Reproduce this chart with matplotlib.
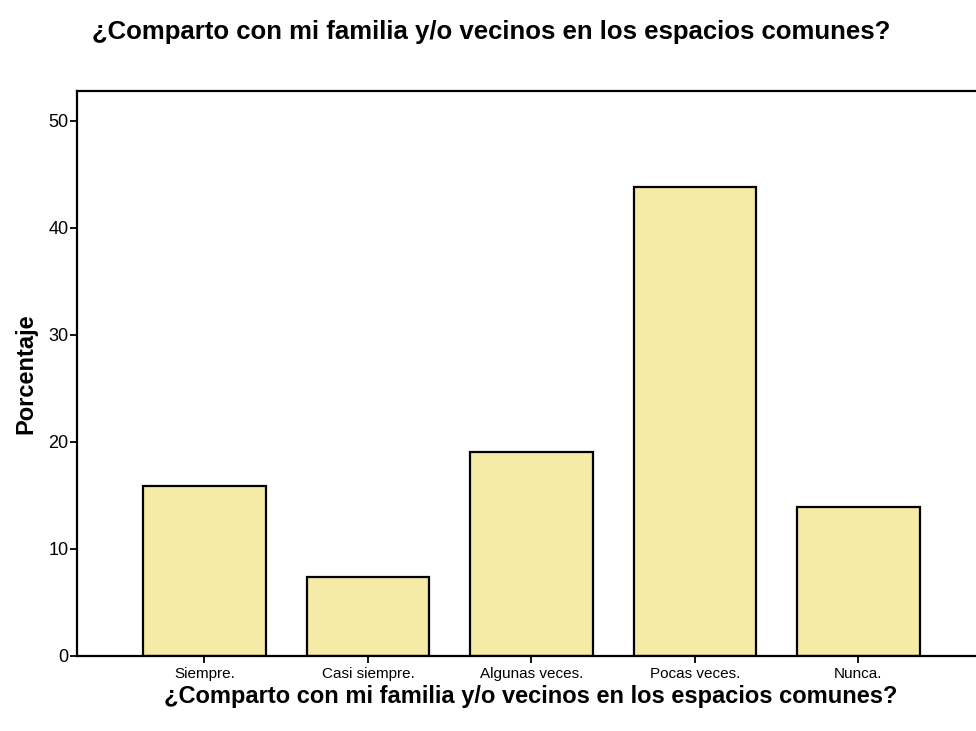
import numpy as np
import matplotlib.pyplot as plt

plt.rcParams['font.family'] = ['Liberation Sans', 'DejaVu Sans']

categories = ["Siempre.", "Casi siempre.", "Algunas veces.", "Pocas veces.", "Nunca."]
percentages = [15.9, 7.4, 19.1, 43.8, 13.9]
title = "¿Comparto con mi familia y/o vecinos en los espacios comunes?"


def main():
    fig = plt.figure(figsize=(9.76, 7.31), dpi=100)
    W, H = 976, 731
    # axes box in pixels: left 77, top 91, right 976, bottom 656
    ax = fig.add_axes([77 / W, 1 - 656 / H, (976 - 77) / W, (656 - 91) / H])

    x = np.arange(len(categories))
    ax.bar(x, percentages, width=0.75, color="#F5EAA6", edgecolor="black", linewidth=1.6)

    ax.set_xlim(-0.78, 4.72)
    ax.set_ylim(0, 52.8)
    ax.set_yticks([0, 10, 20, 30, 40, 50])
    ax.set_xticks(x)
    ax.set_xticklabels(categories, fontsize=11)
    ax.tick_params(axis="y", labelsize=13, length=5, width=1.3, pad=1)
    ax.tick_params(axis="x", length=5, width=1.3, pad=3)

    for side in ["left", "bottom", "top"]:
        ax.spines[side].set_linewidth(1.6)
    ax.spines["right"].set_visible(False)

    ax.set_ylabel("Porcentaje", fontsize=17, fontweight="bold", labelpad=8)
    # x label sits centred on the (cropped) full axes width
    fig.text(531 / W, 1 - 685 / H, title, fontsize=17, fontweight="bold",
             ha="center", va="top")
    fig.text(491 / W, 1 - 32 / H, title, fontsize=18.5, fontweight="bold",
             ha="center", va="center")

    fig.savefig("out.png", dpi=100)


if __name__ == "__main__":
    main()
